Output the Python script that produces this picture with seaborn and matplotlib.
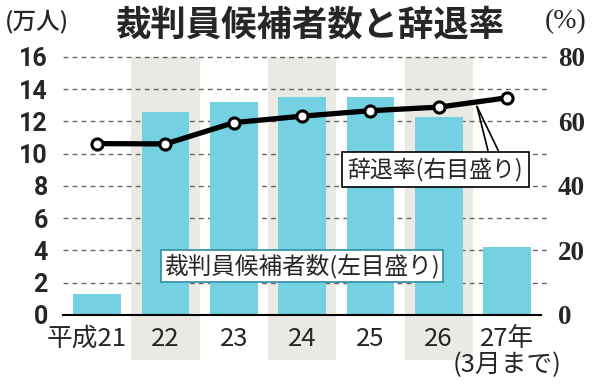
import numpy as np
import matplotlib
matplotlib.use("Agg")
import matplotlib.pyplot as plt
import matplotlib.transforms as mtransforms
from matplotlib.patches import Rectangle
import seaborn as sns

# data
years = ["平成21", "22", "23", "24", "25", "26", "27年\n(3月まで)"]
candidates = [1.3, 12.6, 13.2, 13.5, 13.5, 12.3, 4.2]      # 万人 (left axis)
decline_rate = [53.1, 53.0, 59.6, 61.6, 63.3, 64.4, 67.3]   # % (right axis)
left_ticks = list(range(0, 17, 2))
right_ticks = [0, 20, 40, 60, 80]
shaded = [1, 3, 5]  # categories with grey background band

bar_color = "#74d1e1"
band_color = "#ebe9e4"

sns.set_style("white")
plt.rcParams["font.family"] = ["Noto Sans CJK JP", "DejaVu Sans"]

fig = plt.figure(figsize=(6, 3.84), dpi=100)
ax = fig.add_axes([0.105, 0.180, 0.797, 0.672])

x = np.arange(len(years))

# grey bands behind alternate years, running down behind the tick labels
band_trans = mtransforms.blended_transform_factory(ax.transData, ax.transAxes)
for i in shaded:
    ax.add_patch(Rectangle((i - 0.5, -0.175), 1.0, 1.175, transform=band_trans,
                           facecolor=band_color, edgecolor="none", zorder=0, clip_on=False))

# dashed gridlines
ax.hlines(left_ticks[1:], -0.5, len(years) - 0.4, colors="#666666", linestyles=(0, (3.5, 3)),
          linewidth=1, zorder=0.5, clip_on=False)

sns.barplot(x=x, y=candidates, color=bar_color, saturation=1, width=0.7,
            native_scale=True, ax=ax, zorder=2, linewidth=0)

ax.set_xlim(-0.5, len(years) - 0.5)
ax.set_ylim(0, 16)
ax.set_xlabel("")
ax.set_ylabel("")
for s in ["top", "left", "right"]:
    ax.spines[s].set_visible(False)
ax.spines["bottom"].set_color("black")
ax.spines["bottom"].set_linewidth(1.5)

ax.set_yticks(left_ticks)
ax.set_yticklabels([str(t) for t in left_ticks], fontsize=18, fontweight="bold",
                   family=["Roboto", "DejaVu Sans"])
ax.tick_params(axis="y", length=0, pad=11)

ax.set_xticks(x)
ax.set_xticklabels(years, fontsize=18.5, linespacing=1.0)
ax.set_xticks(np.arange(-0.5, len(years)), minor=True)
ax.tick_params(axis="x", which="major", length=0, pad=8)
ax.tick_params(axis="x", which="minor", direction="in", length=6, width=1.5, color="black")
first = ax.get_xticklabels()[0]
first.set_transform(first.get_transform() + mtransforms.ScaledTranslation(-0.11, 0, fig.dpi_scale_trans))

# decline rate line on the right axis
ax2 = ax.twinx()
sns.lineplot(x=x, y=decline_rate, ax=ax2, color="black", linewidth=3.8,
             marker="o", markersize=8, markerfacecolor="white",
             markeredgecolor="black", markeredgewidth=2.2, zorder=5)
ax2.set_ylim(0, 80)
ax2.set_yticks(right_ticks)
ax2.set_yticklabels([str(t) for t in right_ticks], fontsize=19.5, fontweight="bold",
                    family=["Liberation Serif", "DejaVu Serif"])
ax2.tick_params(axis="y", length=0, pad=12)
ax2.set_ylabel("")
for s in ["top", "left", "right", "bottom"]:
    ax2.spines[s].set_visible(False)

# callout for the line
ax2.plot([5.56, 5.72], [64.6, 51.0], color="black", linewidth=1.2, zorder=6)
ax2.plot([5.56, 5.87], [64.6, 51.0], color="black", linewidth=1.2, zorder=6)
ax2.text(4.95, 45.0, "辞退率(右目盛り)", ha="center", va="center", fontsize=16.5,
         zorder=7, bbox=dict(boxstyle="square,pad=0.25", facecolor="white",
                             edgecolor="black", linewidth=1.2))

# label for the bars
ax.text(3.0, 3.05, "裁判員候補者数(左目盛り)", ha="center", va="center", fontsize=17,
        zorder=7, bbox=dict(boxstyle="square,pad=0.15", facecolor="white",
                            edgecolor="#2f8ea3", linewidth=1.2))

fig.text(0.517, 0.935, "裁判員候補者数と辞退率", ha="center", va="center",
         fontsize=25.5, fontweight="bold")
fig.text(0.008, 0.945, "(万人)", ha="left", va="center", fontsize=17, fontweight="medium")
fig.text(0.942, 0.943, "(%)", ha="center", va="center", fontsize=20,
         family=["Liberation Serif", "DejaVu Serif"])

fig.savefig("out.png", dpi=100)
